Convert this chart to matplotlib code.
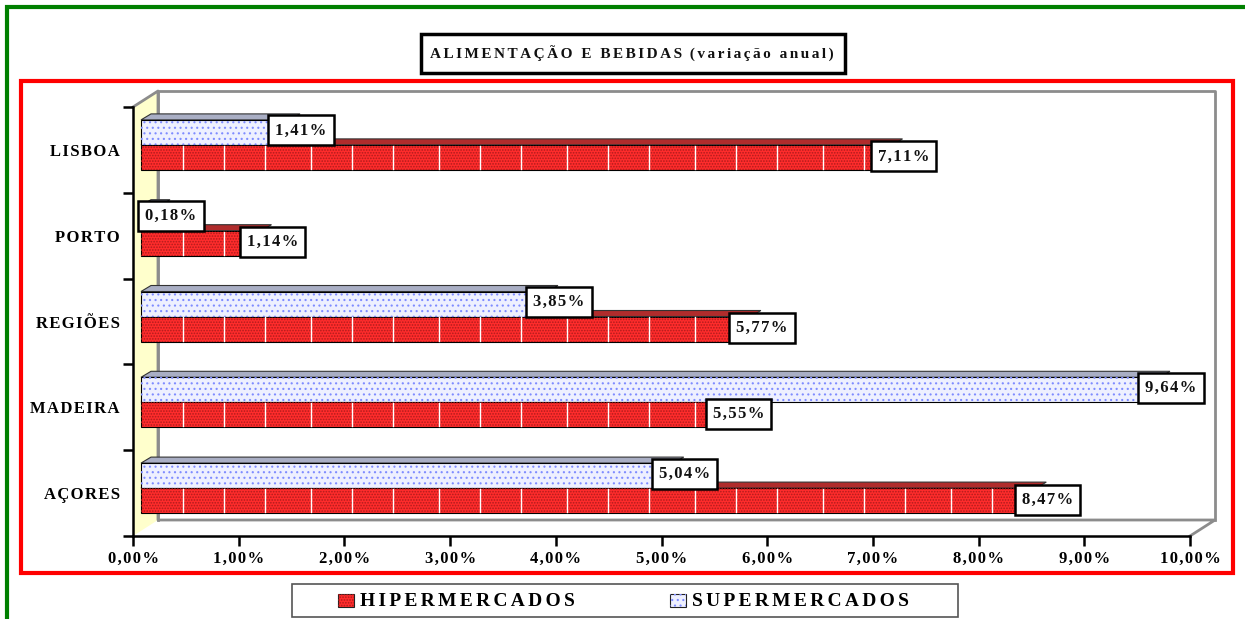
import matplotlib
matplotlib.use("Agg")
import matplotlib.pyplot as plt
from matplotlib.patches import Rectangle, Polygon

categories = ["AÇORES", "MADEIRA", "REGIÕES", "PORTO", "LISBOA"]
hiper = [8.47, 5.55, 5.77, 1.14, 7.11]
super_ = [5.04, 9.64, 3.85, 0.18, 1.41]
x_ticks = [0, 1, 2, 3, 4, 5, 6, 7, 8, 9, 10]

W, H = 1245, 619
AX_L, AX_R, AX_T, AX_B = 133, 1190, 107, 536
PX_X = (AX_R - AX_L) / 10
PX_Y = (AX_B - AX_T) / 5

RED = "#ff2c2c"
BLUE = "#eef0ff"
FONT = "Liberation Serif"


def spaced(s, n=1):
    # the original has very wide letter spacing
    return ("\u200a" * n).join(s)


def pct(v):
    return f"{v:.2f}".replace(".", ",") + "%"


def main():
    plt.rcParams["hatch.linewidth"] = 0.8
    fig = plt.figure(figsize=(W / 100, H / 100), dpi=100)
    bg = fig.add_axes([0, 0, 1, 1])
    bg.set_xlim(0, W)
    bg.set_ylim(H, 0)
    bg.axis("off")

    # page frames
    bg.plot([7, 7, W], [H, 6.5, 6.5], color="#008000", lw=3, solid_joinstyle="miter")
    bg.add_patch(Rectangle((21, 81), 1212, 492, fc="none", ec="#ff0000", lw=3))
    bg.text(632, 54, spaced("ALIMENTAÇÃO E BEBIDAS", 2) + "  " + spaced("(variação anual)", 2),
            family=FONT, weight="bold", size=11, ha="center", va="center", color="#111111")
    bg.add_patch(Rectangle((421, 34), 424, 39, fc="none", ec="black", lw=2.5))

    # legend
    bg.add_patch(Rectangle((292, 584), 666, 33, fc="white", ec="#555555", lw=1.2))
    bg.add_patch(Rectangle((338, 594), 16, 13, fc=RED, ec="#222222", lw=0.8))
    bg.add_patch(Rectangle((338, 594), 16, 13, fc="none", ec="#b01c1c", lw=0, hatch="......"))
    bg.add_patch(Rectangle((670, 594), 16, 13, fc=BLUE, ec="#222222", lw=0.8))
    bg.add_patch(Rectangle((670, 594), 16, 13, fc="none", ec="#7f8cff", lw=0, hatch="..."))
    bg.text(360, 601, spaced("HIPERMERCADOS", 2), family=FONT, weight="bold", size=14, va="center")
    bg.text(692, 601, spaced("SUPERMERCADOS", 2), family=FONT, weight="bold", size=14, va="center")

    ax = fig.add_axes([AX_L / W, 1 - AX_B / H, (AX_R - AX_L) / W, (AX_B - AX_T) / H])
    ax.patch.set_alpha(0)
    ax.set_xlim(0, 10)
    ax.set_ylim(-0.5, 4.5)

    # depth of the fake 3d box, in data units
    wx, wy = 25 / PX_X, 16 / PX_Y
    ax.add_patch(Polygon([(0, -0.5), (wx, -0.5 + wy), (wx, 4.5 + wy), (0, 4.5)],
                         fc="#ffffcc", ec="none", clip_on=False))
    ax.plot([0, wx, wx, 10 + wx, 10],
            [4.5, 4.5 + wy, -0.5 + wy, -0.5 + wy, -0.5],
            color="#8c8c8c", lw=2, clip_on=False, zorder=1)
    ax.plot([wx, wx, 10 + wx, 10 + wx],
            [-0.5 + wy, 4.5 + wy, 4.5 + wy, -0.5 + wy],
            color="#8c8c8c", lw=2, clip_on=False, zorder=1)

    bh = 25 / PX_Y
    x0 = 8 / PX_X
    mid = 5 / PX_Y
    dx, dy = 10 / PX_X, 6 / PX_Y
    ys_super = [i + mid + bh / 2 for i in range(5)]
    ys_hiper = [i + mid - bh / 2 for i in range(5)]
    for i in range(len(categories)):
        h_top = i + mid
        s_top = i + mid + bh
        # top faces
        ax.add_patch(Polygon([(x0, s_top), (x0 + dx, s_top + dy), (x0 + dx + super_[i], s_top + dy),
                              (x0 + super_[i], s_top)], fc="#a9aec4", ec="#333333", lw=0.8, zorder=2))
        ax.add_patch(Polygon([(x0, h_top), (x0 + dx, h_top + dy), (x0 + dx + hiper[i], h_top + dy),
                              (x0 + hiper[i], h_top)], fc="#b02c2c", ec="#333333", lw=0.8, zorder=2))
    ax.barh(ys_super, super_, height=bh, left=x0, color=BLUE, edgecolor="black", lw=0.8, zorder=3)
    ax.barh(ys_super, super_, height=bh, left=x0, color="none", edgecolor="#7f8cff", lw=0,
            hatch="...", zorder=3)
    ax.barh(ys_hiper, hiper, height=bh, left=x0, color=RED, edgecolor="black", lw=0.8, zorder=3)
    ax.barh(ys_hiper, hiper, height=bh, left=x0, color="none", edgecolor="#b01c1c", lw=0,
            hatch="......", zorder=3)

    # white seams of the red fill pattern: steps of 41, 41, 46 px
    seams = []
    px = 183
    steps = [41, 41, 46]
    while px < 1190:
        seams.append((px - AX_L) / PX_X)
        px += steps[len(seams) % 3 - 1]
    for i in range(len(categories)):
        for sx in seams:
            if sx < x0 + hiper[i]:
                ax.plot([sx, sx], [ys_hiper[i] - bh / 2 + 0.01, ys_hiper[i] + bh / 2 - 0.01],
                        color="white", lw=1, zorder=3.5)

    # value boxes sit on the bar ends
    off = 11 / PX_X
    for i in range(len(categories)):
        for vals, yy in ((super_, ys_super[i] + 2 / PX_Y), (hiper, ys_hiper[i] + 1 / PX_Y)):
            ax.text(x0 + vals[i] + off, yy, spaced(pct(vals[i])), family=FONT, weight="bold", size=12,
                    ha="center", va="center", zorder=5, color="#111111",
                    bbox=dict(boxstyle="square,pad=0.42", fc="white", ec="black", lw=1.8))

    for s in ("top", "right"):
        ax.spines[s].set_visible(False)
    for s in ("left", "bottom"):
        ax.spines[s].set_linewidth(1.8)
    ax.set_xticks(x_ticks)
    ax.set_xticklabels([spaced(pct(v)) for v in x_ticks], family=FONT, weight="bold", size=12)
    ax.set_yticks([v - 0.5 for v in range(6)])
    ax.set_yticklabels([])
    ax.tick_params(axis="x", length=7, width=1.8, direction="out", pad=4)
    ax.tick_params(axis="y", length=7, width=1.8, direction="out")
    for i, c in enumerate(categories):
        ax.text(-13 / PX_X, i - 2 / PX_Y, spaced(c), family=FONT, weight="bold", size=12,
                ha="right", va="center", clip_on=False)

    fig.savefig("out.png", dpi=100)


if __name__ == "__main__":
    main()
